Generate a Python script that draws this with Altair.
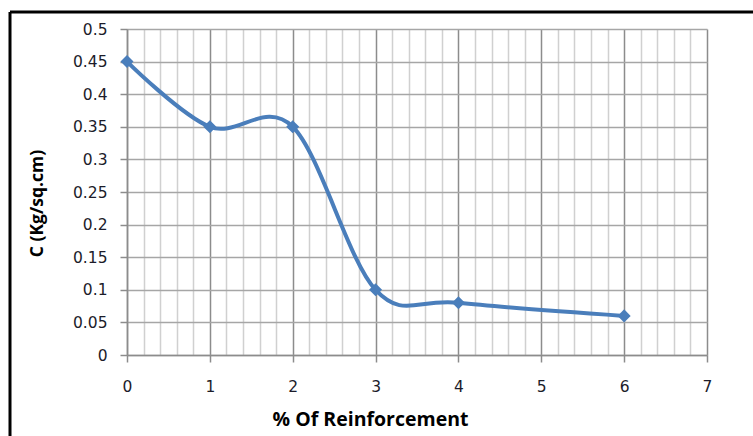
import altair as alt
import pandas as pd

# Data
reinforcement = [0, 1, 2, 3, 4, 6]
cohesion = [0.45, 0.35, 0.35, 0.10, 0.08, 0.06]

x_ticks = [0, 0.2, 0.4, 0.6, 0.8, 1, 1.2, 1.4, 1.6, 1.8, 2, 2.2, 2.4, 2.6, 2.8,
           3, 3.2, 3.4, 3.6, 3.8, 4, 4.2, 4.4, 4.6, 4.8, 5, 5.2, 5.4, 5.6, 5.8,
           6, 6.2, 6.4, 6.6, 6.8, 7]
y_ticks = [0, 0.05, 0.1, 0.15, 0.2, 0.25, 0.3, 0.35, 0.4, 0.45, 0.5]

df = pd.DataFrame({"x": reinforcement, "y": cohesion})

TITLE_FONT = "Open Sans"
LABEL_FONT = "DejaVu Sans"
LINE_COLOR = "#4a7ebb"
is_int = "abs(datum.value - round(datum.value)) < 0.01"

x_axis = alt.Axis(
    values=x_ticks, tickCount=200,
    title="% Of Reinforcement",
    titleFont=TITLE_FONT, titleFontSize=19.5, titleFontWeight="bold", titleColor="#000000",
    titleX=243, titleY=70, titleAlign="center", titleBaseline="alphabetic",
    labelFont=LABEL_FONT, labelFontSize=15.5, labelColor="#1c1c2a",
    labelExpr=f"{is_int} ? format(datum.value, 'd') : ''",
    labelOverlap=False, labelFlush=False, labelPadding=17,
    grid=True,
    gridColor={"condition": {"test": is_int, "value": "#8c8c8c"}, "value": "#d0d0d0"},
    gridWidth=1.5,
    ticks=True, tickSize=7, tickColor="#8c8c8c", tickWidth=1.5,
    tickOpacity={"condition": {"test": is_int, "value": 1}, "value": 0},
    domain=True, domainColor="#8c8c8c", domainWidth=1.5,
)

y_axis = alt.Axis(
    values=y_ticks, tickCount=200, format="~g",
    title="C (Kg/sq.cm)",
    titleFont=TITLE_FONT, titleFontSize=17.5, titleFontWeight="bold", titleColor="#000000",
    titleAngle=270, titleX=-85, titleY=174, titleAlign="center", titleBaseline="alphabetic",
    labelFont=LABEL_FONT, labelFontSize=15.5, labelColor="#1c1c2a", labelPadding=13,
    labelOverlap=False, labelFlush=False,
    grid=True, gridColor="#a6a6a6", gridWidth=1.5,
    ticks=True, tickSize=7, tickColor="#8c8c8c", tickWidth=1.5,
    domain=True, domainColor="#8c8c8c", domainWidth=1.5,
)

base = alt.Chart(df)

line = base.mark_line(
    interpolate="cardinal", tension=0, color=LINE_COLOR, strokeWidth=4
).encode(
    x=alt.X("x:Q", scale=alt.Scale(domain=[0, 7], nice=False, zero=False), axis=x_axis),
    y=alt.Y("y:Q", scale=alt.Scale(domain=[0, 0.5], nice=False), axis=y_axis),
)

points = base.mark_point(
    shape="diamond", filled=True, size=170, color=LINE_COLOR, opacity=1
).encode(x="x:Q", y="y:Q")

frame_data = alt.Data(values=[{"a": 1}])
top_border = alt.Chart(frame_data).mark_rule(color="#000000", strokeWidth=3).encode(
    x=alt.value(-117), x2=alt.value(640), y=alt.value(-17)
)
left_border = alt.Chart(frame_data).mark_rule(color="#000000", strokeWidth=3).encode(
    x=alt.value(-117), y=alt.value(-17), y2=alt.value(420)
)

chart = alt.layer(line, points, top_border, left_border).properties(
    width=580, height=326,
    autosize=alt.AutoSizeParams(type="none"),
    padding={"left": 127, "top": 29, "right": 46, "bottom": 81},
    background="#ffffff",
).configure_view(stroke=None)

chart.save("out.html", embed_options={"renderer": "svg", "actions": False})
